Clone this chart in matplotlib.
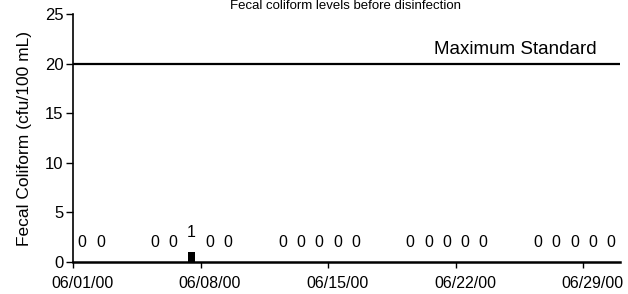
import matplotlib
matplotlib.use('Agg')
import matplotlib.pyplot as plt

plt.rcParams['font.family'] = ['Liberation Sans', 'DejaVu Sans']

# Дані: дні червня 2000 з відбором проб та кількість колоній
days = list(range(1, 31))
sample_days = [1, 2, 5, 6, 7, 8, 9, 12, 13, 14, 15, 16,
               19, 20, 21, 22, 23, 26, 27, 28, 29, 30]
counts = [0, 0, 0, 0, 1, 0, 0, 0, 0, 0, 0, 0,
          0, 0, 0, 0, 0, 0, 0, 0, 0, 0]
label_days = [1, 8, 15, 22, 29]
max_standard = 20

fig = plt.figure(figsize=(6.28, 2.94), dpi=100)
ax = fig.add_axes([0.1162, 0.1088, 0.871, 0.843])

x = [days.index(d) for d in sample_days]
ax.bar(x, counts, width=0.4, color='black')
for xi, c in zip(x, counts):
    ax.annotate(str(c), (xi, c), xytext=(0, 14), textcoords='offset points',
                ha='center', va='center', fontsize=11.5)

ax.axhline(max_standard, color='black', lw=1.6)
ax.text(28.2, max_standard + 0.6, 'Maximum Standard', ha='right', va='bottom',
        fontsize=13.5)

ax.set_xlim(-0.5, len(days) - 0.5)
ax.set_ylim(0, 25)
ax.set_yticks([0, 5, 10, 15, 20, 25])
ax.set_xticks([days.index(d) - 0.5 for d in label_days])
ax.set_xticklabels([])
ax.set_xticks([days.index(d) for d in label_days], minor=True)
ax.set_xticklabels(['06/%02d/00' % d for d in label_days], minor=True)
ax.tick_params(axis='x', which='major', length=4, width=1, direction='out')
ax.tick_params(axis='x', which='minor', length=0, pad=10, labelsize=11.5)
ax.tick_params(axis='y', length=5, width=1, direction='out', pad=2, labelsize=12)

ax.spines['top'].set_visible(False)
ax.spines['right'].set_visible(False)
ax.spines['bottom'].set_linewidth(1.8)
ax.spines['left'].set_linewidth(1.2)

ax.set_ylabel('Fecal Coliform (cfu/100 mL)', fontsize=12.5, labelpad=9)
fig.text(0.55, 1.0, 'Fecal coliform levels before disinfection',
         ha='center', va='top', fontsize=9.5)

fig.savefig('out.png', dpi=100)
